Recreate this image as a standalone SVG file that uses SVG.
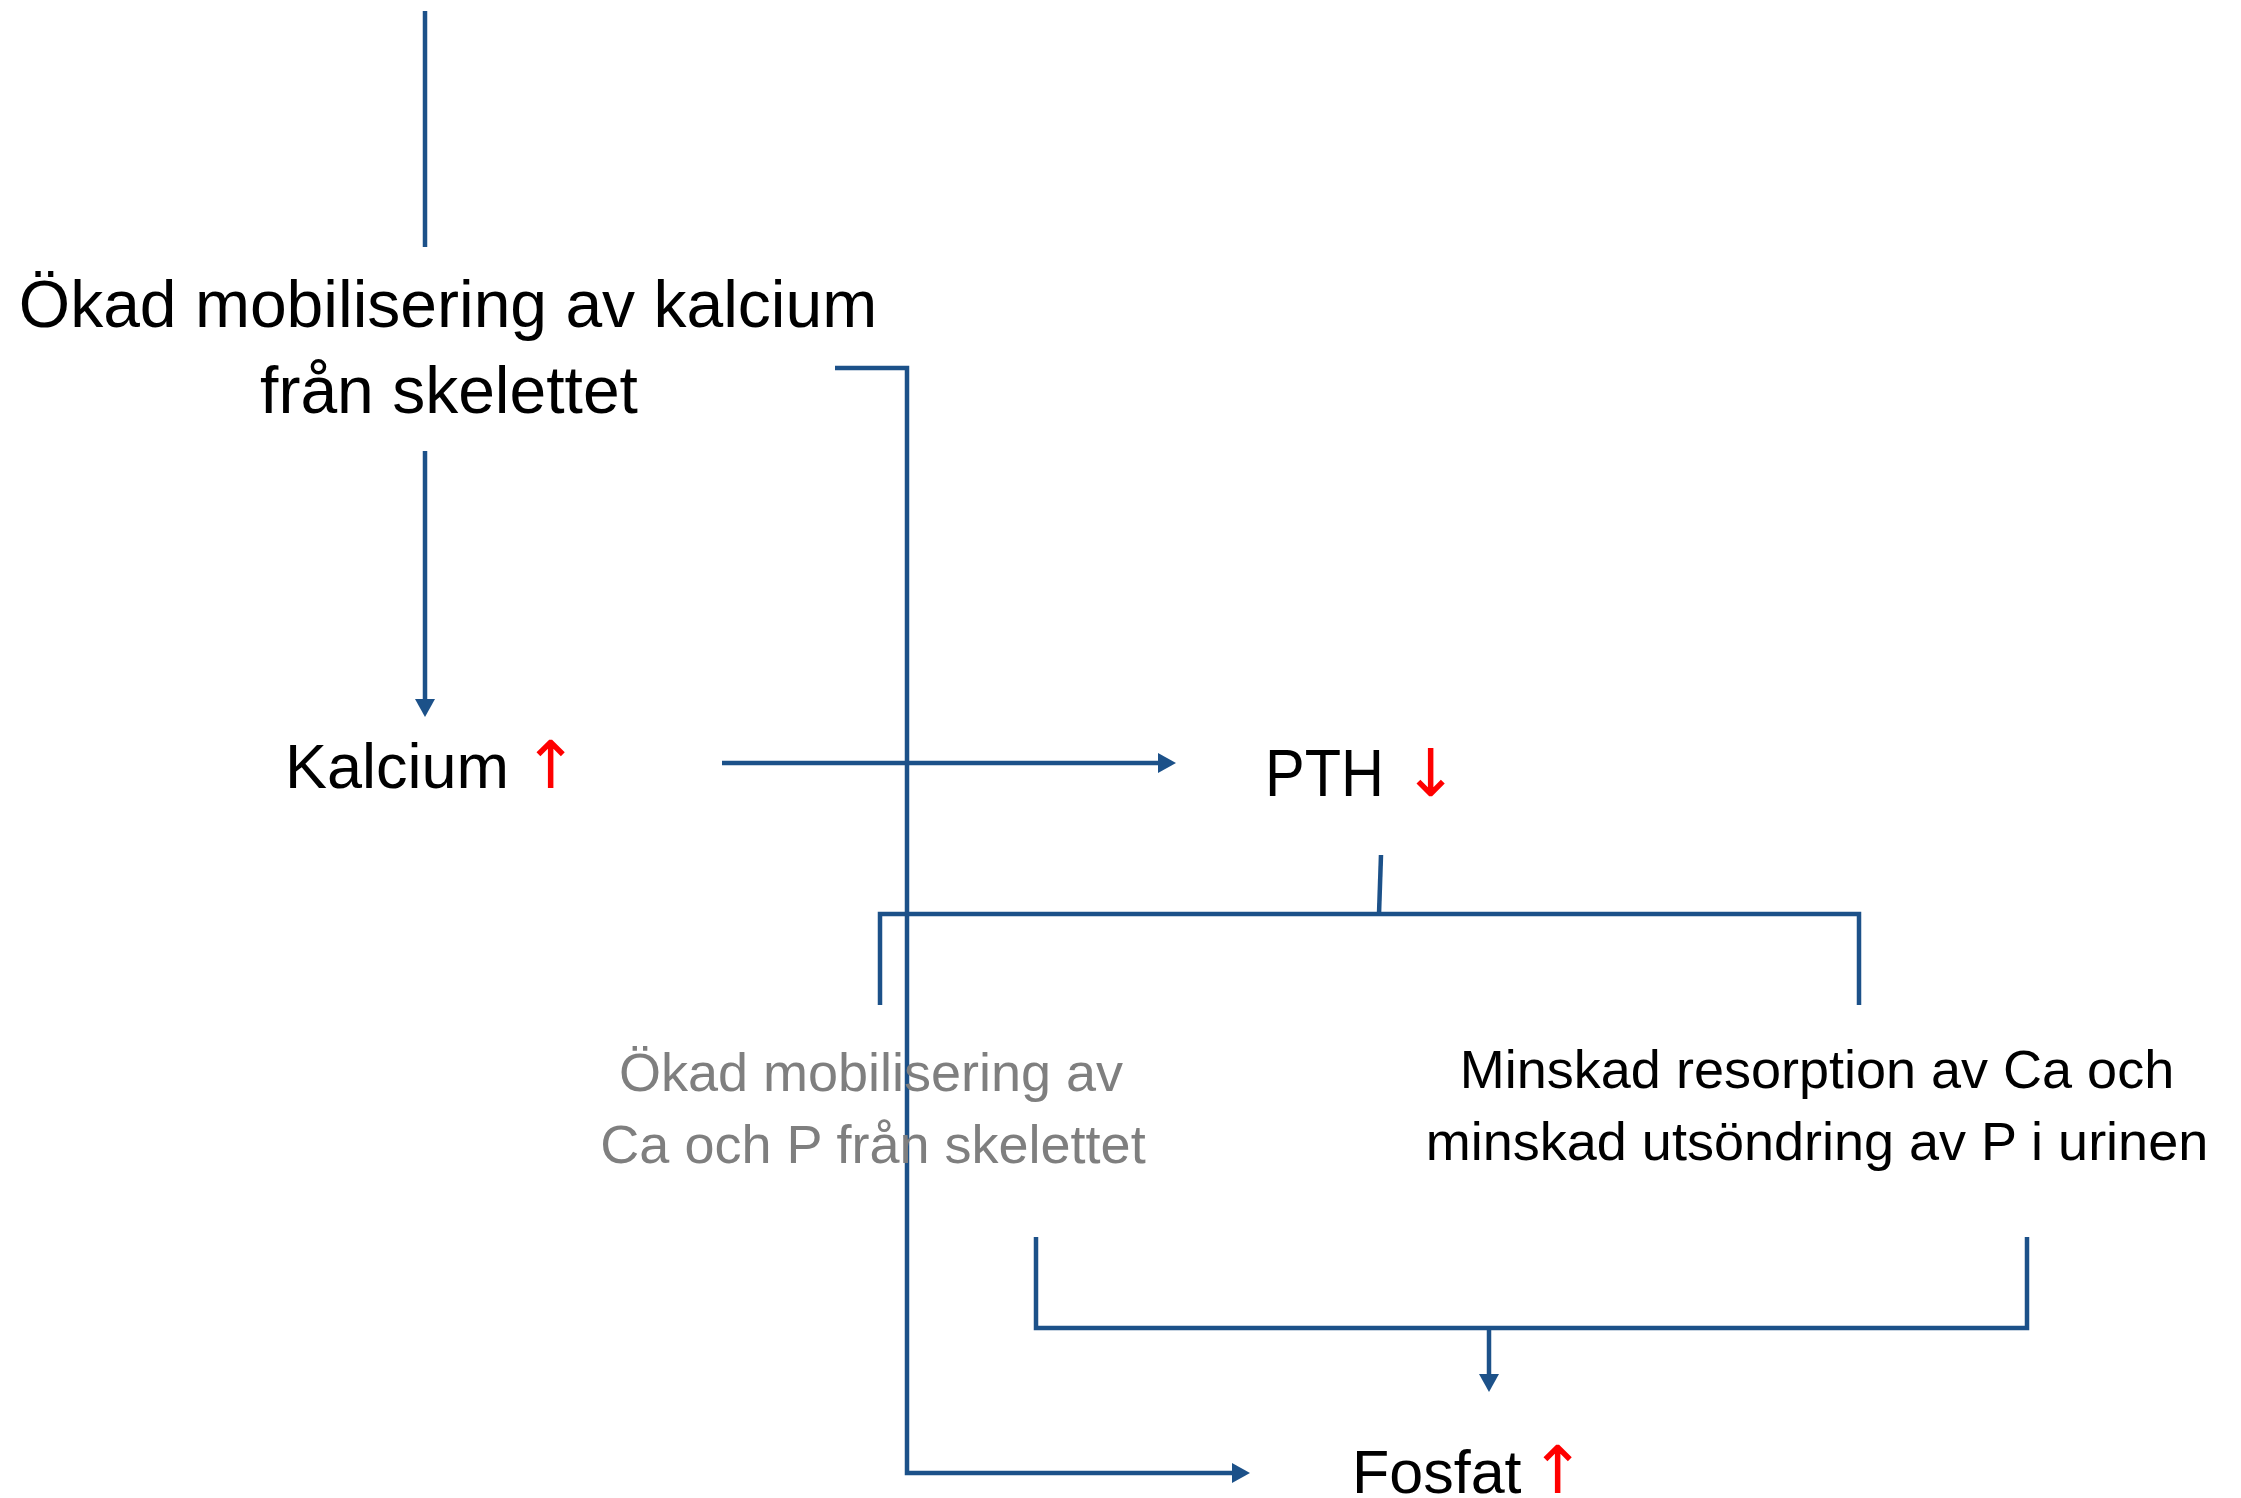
<svg xmlns="http://www.w3.org/2000/svg" width="2241" height="1498" viewBox="0 0 2241 1498">
  <style>
    .lbl { font-family: "Liberation Sans", Arial, sans-serif; fill: #000; }
    .sub { font-family: "Liberation Sans", Arial, sans-serif; fill: #000; font-size: 54px; }
    .muted { fill: #7f7f7f; }
    .ind { font-family: "DejaVu Sans", sans-serif; fill: #ff0000; font-size: 66px; }
    .wire { fill: none; stroke: #1c5189; stroke-width: 4.5; stroke-linecap: butt; stroke-linejoin: miter; }
  </style>
  <defs>
    <marker id="head" markerUnits="userSpaceOnUse" markerWidth="18" markerHeight="20" refX="0" refY="10" orient="auto" overflow="visible">
      <path d="M0,0 L18,10 L0,20 Z" fill="#1c5189"/>
    </marker>
  </defs>
  <rect width="2241" height="1498" fill="#ffffff"/>

  <g id="connectors">
    <!-- incoming stem into the bone mobilisation label -->
    <path class="wire" d="M425 11 V247"/>
    <!-- mobilisation -> calcium -->
    <path class="wire" d="M425 451 V699" marker-end="url(#head)"/>
    <!-- calcium -> PTH -->
    <path class="wire" d="M722 763 H1158" marker-end="url(#head)"/>
    <!-- mobilisation -> phosphate (long elbow) -->
    <path class="wire" d="M835 368 H907 V1473 H1232" marker-end="url(#head)"/>
    <!-- PTH split -->
    <path class="wire" d="M1381 855 L1379 914"/>
    <path class="wire" d="M880 1005 V914 H1859 V1005"/>
    <!-- merge into phosphate -->
    <path class="wire" d="M1036 1237 V1328 H2027 V1237"/>
    <path class="wire" d="M1489 1328 V1374" marker-end="url(#head)"/>
  </g>

  <g id="node-mobilisering">
    <text class="lbl" font-size="66" text-anchor="middle" x="448" y="327">Ökad mobilisering av kalcium</text>
    <text class="lbl" font-size="66" text-anchor="middle" x="449" y="413">från skelettet</text>
  </g>

  <g id="node-kalcium">
    <text class="lbl" font-size="63" x="285" y="788">Kalcium</text>
    <text class="ind" x="523" y="788">↑</text>
  </g>

  <g id="node-pth">
    <text class="lbl" font-size="66" x="1265" y="796" textLength="119" lengthAdjust="spacingAndGlyphs">PTH</text>
    <text class="ind" x="1403" y="796">↓</text>
  </g>

  <g id="node-skelett">
    <text class="sub muted" text-anchor="middle" x="871" y="1091">Ökad mobilisering av</text>
    <text class="sub muted" text-anchor="middle" x="873" y="1163">Ca och P från skelettet</text>
  </g>

  <g id="node-njure">
    <text class="sub" text-anchor="middle" x="1817" y="1088">Minskad resorption av Ca och</text>
    <text class="sub" text-anchor="middle" x="1817" y="1160">minskad utsöndring av P i urinen</text>
  </g>

  <g id="node-fosfat">
    <text class="lbl" font-size="61" x="1352" y="1493">Fosfat</text>
    <text class="ind" x="1530" y="1493">↑</text>
  </g>
</svg>
